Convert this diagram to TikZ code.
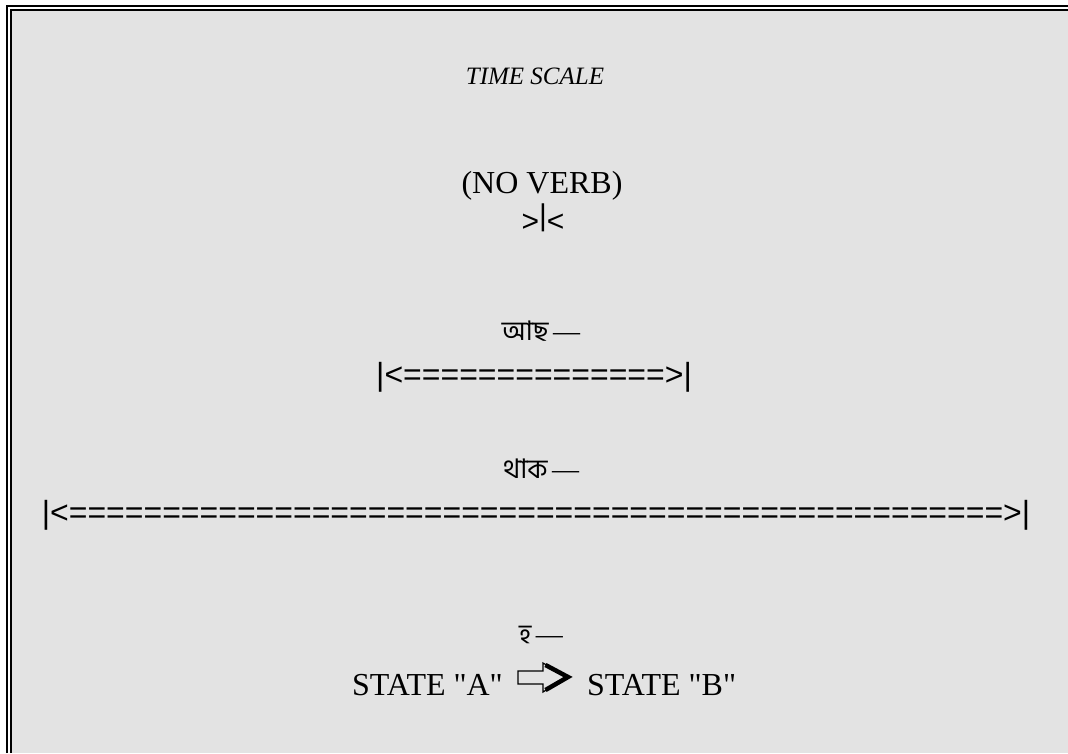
\documentclass[tikz,border=0pt]{standalone}
\usepackage{fontspec}
\setmainfont{Liberation Serif}[Ligatures=TeXOff]
\newfontfamily\arialf{Liberation Sans}
\newfontfamily\bn[Script=Bengali]{Hind Siliguri}
\definecolor{panel}{gray}{0.89}
\begin{document}
\begin{tikzpicture}[x=1pt,y=-1pt,
  serif/.style={inner sep=0pt,anchor=base,font=\fontsize{32}{36}\selectfont},
  sans/.style={inner sep=0pt,anchor=base,font=\arialf\fontsize{32}{36}\selectfont},
  beng/.style={inner sep=0pt,anchor=base,font=\fontsize{27}{30}\selectfont},
  frameline/.style={line width=2.2pt,line cap=butt}]
\useasboundingbox (0,0) rectangle (1068,753);
\fill[white] (0,0) rectangle (1068,753);
\fill[panel] (11,10) rectangle (1068,753);
\draw[frameline] (7,753) -- (7,6) -- (1068,6);
\draw[frameline] (11,753) -- (11,10) -- (1068,10);

\node[serif,font=\itshape\fontsize{25}{30}\selectfont] (title) at (535,84) {TIME SCALE};
\node[serif] (noverb) at (542,193) {(NO VERB)};
\node[sans,font=\arialf\fontsize{30}{34}\selectfont] (point) at (543,231) {>\raisebox{0.18em}{|}<};
\node[beng] (ache) at (541,340) {{\bn আছ}\,—};
\node[sans] (short) at (534,385) {|<==============>|};
\node[beng] (thak) at (541,478) {{\bn থাক}\,—};
\node[sans] (long) at (536,523) {|<==================================================>|};
\node[beng] (ho) at (541,643) {{\bn হ}\,—};
\node[serif,anchor=base east] (sa) at (503,695) {STATE "A"};
\node[serif,anchor=base west] (sb) at (587,695) {STATE "B"};
\coordinate (arr) at (518,677);
\draw[line width=1.2pt,line join=miter,fill=panel]
  (arr) ++(0,-6) -- ++(25,0) -- ++(0,-8) -- (567,677) -- (543,692) -- ++(0,-8) -- ++(-25,0) -- cycle;
\draw[line width=4.5pt,line join=miter] (545.5,665) -- (568,677) -- (545.5,690);
\end{tikzpicture}
\end{document}
